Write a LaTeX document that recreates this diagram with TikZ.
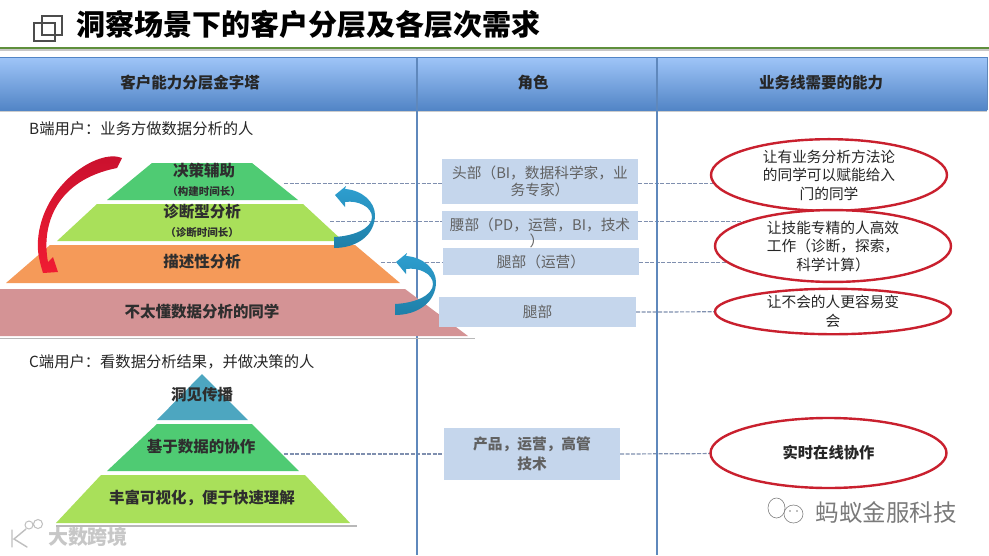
\documentclass[tikz,border=0pt]{standalone}
\usepackage{fontspec}
\setmainfont{Noto Sans CJK SC}
\usepackage{xcolor}
\usetikzlibrary{shapes.geometric,backgrounds}
\definecolor{bandtop}{HTML}{9FC5F8}
\definecolor{bandlow}{HTML}{5285C6}
\definecolor{rule}{HTML}{5F88BC}
\definecolor{titleline}{HTML}{5F8F3C}
\definecolor{rolefill}{HTML}{C5D6EC}
\definecolor{needred}{HTML}{C9202E}
\definecolor{linkgray}{HTML}{7F8FAF}
\definecolor{tierteal}{HTML}{4DA6C0}
\definecolor{tiergreen}{HTML}{4FCB73}
\definecolor{tierlime}{HTML}{A9E05A}
\definecolor{tierorange}{HTML}{F59A59}
\definecolor{tierrose}{HTML}{D49395}
\definecolor{arrowblue}{HTML}{2E9FD0}
\definecolor{arrowdeep}{HTML}{1E7FA8}
\definecolor{arrowred}{HTML}{C8102E}
\definecolor{arrowbright}{HTML}{F01C32}
\tikzset{
  headtext/.style={font=\fontsize{15.5}{18}\selectfont\bfseries,text=black!85},
  tiertext/.style={font=\fontsize{15.5}{18}\selectfont\bfseries,text=black!82},
  tiersub/.style={font=\fontsize{10.5}{12}\selectfont\bfseries,text=black!82},
  usertext/.style={font=\fontsize{15.3}{18}\selectfont,text=black!85,anchor=west,inner sep=0pt},
  rolebox/.style={fill=rolefill,inner sep=0pt,text=black!62,align=center,font=\fontsize{14.7}{17.5}\selectfont},
  needell/.style={ellipse,draw=needred,line width=2.4pt,fill=white,inner sep=0pt,align=center,text=black!85,minimum width=236pt,font=\fontsize{14.7}{18.5}\selectfont},
  dashlink/.style={dash pattern=on 4pt off 1.5pt,draw=linkgray,line width=1.2pt},
  baseshadow/.style={draw=black!28,line width=1.6pt}
}
\begin{document}
\begin{tikzpicture}[x=1pt,y=-1pt,line cap=butt]
\useasboundingbox (0,0) rectangle (989,555);
\draw[black!70,line width=1.8pt] (42,16) rectangle (62,35);
\draw[black!70,line width=1.8pt] (34,23) rectangle (55,41);
\node[font=\fontsize{29}{32}\selectfont\bfseries,anchor=west,inner sep=0pt] (title) at (76,24) {洞察场景下的客户分层及各层次需求};
\draw[black!22,line width=2pt] (0,50) -- (989,50);
\draw[titleline,line width=2pt] (0,47.5) -- (989,47.5);
\shade[top color=bandtop,bottom color=bandlow] (0,57) rectangle (987,110);
\draw[bandlow,line width=.8pt] (0,57) -- (987,57);
\draw[black!20,line width=1pt] (0,111) -- (987,111);
\draw[rule,line width=2.4pt] (417,57) -- (417,555);
\draw[rule,line width=2.4pt] (657,57) -- (657,555);
\draw[rule,line width=1pt] (987,57) -- (987,110);
\node[headtext] (headPyramid) at (190,83) {客户能力分层金字塔};
\node[headtext] (headRole) at (533,83) {角色};
\node[headtext] (headNeed) at (821,83) {业务线需要的能力};
\node[usertext] (userB) at (29,129) {B端用户：业务方做数据分析的人};
\node[usertext] (userC) at (29,362) {C端用户：看数据分析结果，并做决策的人};
\fill[tiergreen] (152,163) -- (252,163) -- (298,200) -- (107,200) -- cycle;
\fill[tierlime] (97,204) -- (303,204) -- (343,241) -- (57,241) -- cycle;
\fill[tierorange] (50,245) -- (355,245) -- (400,283) -- (6,283) -- cycle;
\draw[baseshadow] (0,338.5) -- (475,338.5);
\fill[white] (0,284) rectangle (405,289);
\fill[tierrose] (0,289) -- (405,289) -- (468,336) -- (0,336) -- cycle;
\fill[tierteal] (202,374) -- (248,420) -- (157,420) -- cycle;
\fill[tiergreen] (157,424) -- (252,424) -- (299,471) -- (107,471) -- cycle;
\draw[baseshadow] (56,526) -- (357,526);
\fill[tierlime] (101,475) -- (305,475) -- (350,523) -- (56,523) -- cycle;
\node[tiertext] (tierDecide) at (204,171) {决策辅助};
\node[tiersub] (subDecide) at (204,192) {（构建时间长）};
\node[tiertext] (tierDiag) at (202,212) {诊断型分析};
\node[tiersub] (subDiag) at (202,233) {（诊断时间长）};
\node[tiertext] (tierDescribe) at (202,262) {描述性分析};
\node[tiertext] (tierNovice) at (202,312) {不太懂数据分析的同学};
\node[tiertext] (tierInsight) at (202,395) {洞见传播};
\node[tiertext] (tierShare) at (201,447) {基于数据的协作};
\node[tiertext] (tierVisual) at (202,498) {丰富可视化，便于快速理解};
\node[rolebox,minimum width=196pt,minimum height=45pt] (roleHead) at (540,181.5) {头部（BI，数据科学家，业\\务专家）};
\node[rolebox,minimum width=196pt,minimum height=29pt] (roleWaist) at (540,225) {腰部（PD，运营，BI，技术};
\node[font=\fontsize{14.7}{17}\selectfont,text=black!62] (roleWaistEnd) at (537,241) {）};
\node[rolebox,minimum width=196pt,minimum height=27pt] (roleLeg) at (541,261.5) {腿部（运营）};
\node[rolebox,minimum width=197pt,minimum height=30pt] (roleNovice) at (537.5,312) {腿部};
\node[rolebox,minimum width=176pt,minimum height=52pt,font=\fontsize{14.7}{20}\selectfont\bfseries] (roleC) at (532,454) {产品，运营，高管\\技术};
\node[needell,minimum height=70pt] (needHead) at (829,175) {让有业务分析方法论\\的同学可以赋能给入\\门的同学};
\node[needell,minimum height=66pt] (needWaist) at (833,246) {让技能专精的人高效\\工作（诊断，探索，\\科学计算）};
\node[needell,minimum height=40pt] (needNovice) at (833,311.5) {让不会的人更容易变\\会};
\node[needell,minimum height=70pt,font=\fontsize{15.3}{18}\selectfont\bfseries] (needC) at (828.5,453) {实时在线协作};
\coordinate (linkDecide) at (284,183.5);
\coordinate (linkDiag) at (330,221.5);
\coordinate (linkDescribe) at (381,262.5);
\coordinate (linkShare) at (284,454);
\begin{scope}[on background layer]
\fill[white] (0,0) rectangle (989,555);
\draw[dashlink] (linkDecide) -- (linkDecide -| roleHead.west);
\draw[dashlink] (linkDecide -| roleHead.east) -- (linkDecide -| needHead.center);
\draw[dashlink] (linkDiag) -- (linkDiag -| roleWaist.west);
\draw[dashlink] (linkDiag -| roleWaist.east) -- (linkDiag -| needWaist.center);
\draw[dashlink] (linkDescribe) -- (linkDescribe -| roleLeg.west);
\draw[dashlink] (linkDescribe -| roleLeg.east) -- (linkDescribe -| needWaist.center);
\draw[dashlink] (roleNovice.east) -- (needNovice.center);
\draw[dashlink] (linkShare) -- (roleC.west);
\draw[dashlink] (roleC.east) -- (needC.center);
\end{scope}
\shade[top color=arrowred,bottom color=arrowbright] (122,158) .. controls (98,148) and (42,185) .. (38,240) .. controls (37,250) and (39,260) .. (43,273) -- (58,272) -- (53,257) -- (48,262) .. controls (41,225) and (56,180) .. (117,168) -- cycle;
\foreach \dx/\dy in {0/0,61/67}
  \shade[shift={(\dx,\dy)},top color=arrowblue,bottom color=arrowdeep] (335,195) -- (346,186) -- (345,189) .. controls (362,190) and (375,202) .. (375,215) .. controls (375,235) and (357,248) .. (334,248) -- (334,237) .. controls (355,236) and (372,228) .. (372,217) .. controls (372,207) and (358,200) .. (345,202) -- (345,207) -- cycle;
\draw[black!25,line width=1.4pt,line cap=round] (12,530) -- (12,547) (26,529) -- (14,539) -- (27,547);
\draw[black!25,line width=1pt] (29,525) circle (4pt) (38,524) circle (4.5pt);
\node[font=\fontsize{20}{22}\selectfont\bfseries,text=black!22] (markLeft) at (88,537) {大数跨境};
\draw[black!50,line width=.6pt] (776.5,508) ellipse (8.5pt and 10pt);
\draw[black!50,line width=.6pt,fill=white] (793.5,514) ellipse (9.5pt and 9pt);
\fill[black!50] (790,511) circle (.9pt) (797,511) circle (.9pt);
\node[font=\fontsize{23.5}{26}\selectfont,text=black!52] (markRight) at (886,512) {蚂蚁金服科技};
\end{tikzpicture}
\end{document}
